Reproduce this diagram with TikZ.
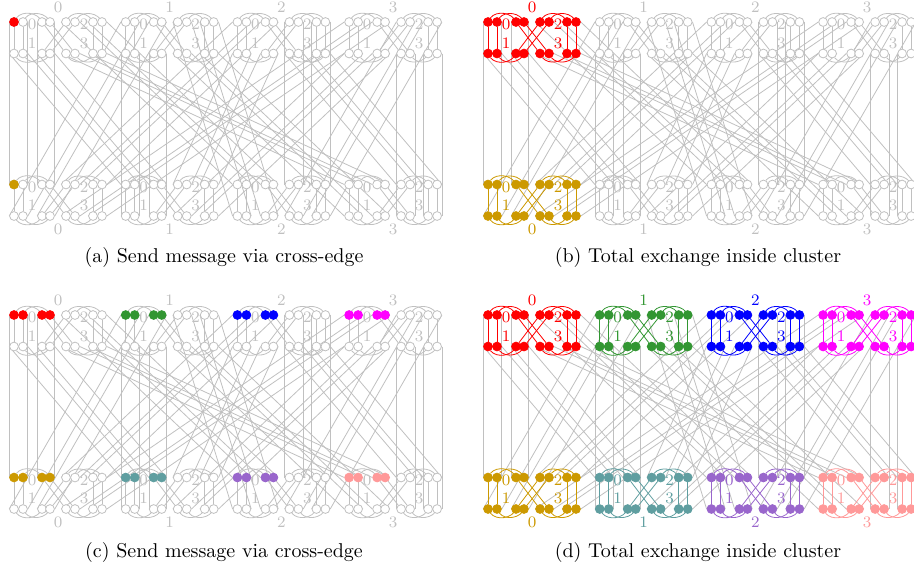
\documentclass[tikz,border=0pt]{standalone}
\usepackage{xcolor}
\usepackage{tikz}
\usetikzlibrary{positioning}

\definecolor{edgegray}{RGB}{192,192,192}
\definecolor{cgold}{RGB}{204,153,0}
\definecolor{cgreen}{RGB}{50,150,50}
\definecolor{cmagenta}{RGB}{255,0,255}
\definecolor{cteal}{RGB}{95,158,160}
\definecolor{cpurple}{RGB}{153,102,204}
\definecolor{cpink}{RGB}{255,153,153}

\pgfdeclarelayer{back}
\pgfdeclarelayer{mid}
\pgfsetlayers{back,mid,main}

\tikzset {
    gdot/.style = {
        circle,
        draw = edgegray,
        fill = white,
        line width = 0.4pt,
        inner sep = 0pt,
        minimum size = 4.4pt
    },
    cdot/.style = {
        circle,
        draw = #1,
        fill = #1,
        line width = 0.4pt,
        inner sep = 0pt,
        minimum size = 4.4pt
    },
    link/.style = {
        draw = #1,
        line width = 0.4pt
    },
    xedge/.style = {
        draw = edgegray,
        line width = 0.4pt
    },
    digit/.style = {
        text = #1,
        font = \footnotesize,
        inner sep = 0pt
    },
    caption/.style = {
        font = \normalsize,
        inner sep = 0pt
    },
    % one cluster: line colour, style of group 0, style of the rest,
    % label colour, y of the cluster number
    pics/cluster/.style n args = {5}{code = {
        \foreach \j/\x in {0/0,1/9,2/28,3/36}
            \node [#2] (-u\j) at (\x,0) {};
        \foreach \j/\x in {4/52,5/61,6/79,7/88}
            \node [#3] (-u\j) at (\x,0) {};
        \foreach \j/\x in {0/0,1/9,2/28,3/36,4/52,5/61,6/79,7/88}
            \node [#3] (-l\j) at (\x,31.5) {};

        \node [digit=#4] (-g0) at (18,2.5)  {0};
        \node [digit=#4] (-g1) at (18,21)   {1};
        \node [digit=#4] (-g2) at (70,2.5)  {2};
        \node [digit=#4] (-g3) at (70,21)   {3};
        \node [digit=#4] (-num) at (44,#5)  {\thecl};

        \begin{pgfonlayer}{mid}
            \foreach \s/\t in {0/1,2/3,4/5,6/7} {
                \path [link=#1] (-u\s) -- (-u\t);
                \path [link=#1] (-l\s) -- (-l\t);
            }
            \foreach \s/\t in {0/2,1/3,4/6,5/7} {
                \path [link=#1] (-u\s) to [bend left=60]  (-u\t);
                \path [link=#1] (-l\s) to [bend right=60] (-l\t);
            }
            \foreach \s in {0,1,6,7}
                \path [link=#1] (-u\s) -- (-l\s);
            \foreach \s/\t in {2/4,3/5} {
                \path [link=#1] (-u\s) -- (-l\t);
                \path [link=#1] (-l\s) -- (-u\t);
            }
        \end{pgfonlayer}
    }}
}

\begin{document}
\begin{tikzpicture}[x=0.5pt, y=-0.5pt]
    \useasboundingbox (0,0) rectangle (914,574);

    % (a) : all gray, one node on each side marked afterwards
    \foreach \c in {0,...,3} {
        \def\thecl{\c}
        \pic (a-t\c) at ({14+111.7*\c},22)    {cluster={edgegray}{gdot}{gdot}{edgegray}{-15}};
        \pic (a-b\c) at ({14+111.7*\c},184.5) {cluster={edgegray}{gdot}{gdot}{edgegray}{44.5}};
    }
    \node [cdot=red]   (a-src) at (a-t0-u0) {};
    \node [cdot=cgold] (a-dst) at (a-b0-u0) {};

    % (b) : cluster 0 on both sides
    \def\thecl{0}
    \pic (b-t0) at (488,22)    {cluster={red}{cdot=red}{cdot=red}{red}{-15}};
    \pic (b-b0) at (488,184.5) {cluster={cgold}{cdot=cgold}{cdot=cgold}{cgold}{44.5}};
    \foreach \c in {1,2,3} {
        \def\thecl{\c}
        \pic (b-t\c) at ({488+111.7*\c},22)    {cluster={edgegray}{gdot}{gdot}{edgegray}{-15}};
        \pic (b-b\c) at ({488+111.7*\c},184.5) {cluster={edgegray}{gdot}{gdot}{edgegray}{44.5}};
    }

    % (c) : group 0 of every cluster
    \foreach \c/\tc/\bc in {0/red/cgold,1/cgreen/cteal,2/blue/cpurple,3/cmagenta/cpink} {
        \def\thecl{\c}
        \pic (c-t\c) at ({14+111.7*\c},315)   {cluster={edgegray}{cdot=\tc}{gdot}{edgegray}{-15}};
        \pic (c-b\c) at ({14+111.7*\c},477.5) {cluster={edgegray}{cdot=\bc}{gdot}{edgegray}{44.5}};
    }

    % (d) : every cluster
    \foreach \c/\tc/\bc in {0/red/cgold,1/cgreen/cteal,2/blue/cpurple,3/cmagenta/cpink} {
        \def\thecl{\c}
        \pic (d-t\c) at ({488+111.7*\c},315)   {cluster={\tc}{cdot=\tc}{cdot=\tc}{\tc}{-15}};
        \pic (d-b\c) at ({488+111.7*\c},477.5) {cluster={\bc}{cdot=\bc}{cdot=\bc}{\bc}{44.5}};
    }

    % cross-edges: top (cluster c, group g, i) -- bottom (cluster g, group c, i)
    \begin{pgfonlayer}{back}
        \foreach \p in {a,b,c,d}
        \foreach \c in {0,...,3}
        \foreach \g in {0,...,3}
        \foreach \i in {0,...,3} {
            \ifodd\g\relax \def\rt{l}\else \def\rt{u}\fi
            \ifodd\c\relax \def\rb{l}\else \def\rb{u}\fi
            \ifodd\i\relax \def\an{east}\else \def\an{west}\fi
            \pgfmathtruncatemacro\jt{\i+4*(\g>1)}
            \pgfmathtruncatemacro\jb{\i+4*(\c>1)}
            \path [xedge] (\p-t\c-\rt\jt.\an) -- (\p-b\g-\rb\jb.\an);
        }
    \end{pgfonlayer}

    \node [caption] (cap-a) at (224,257) {(a) Send message via cross-edge};
    \node [caption] (cap-b) at (698,257) {(b) Total exchange inside cluster};
    \node [caption] (cap-c) at (224,552) {(c) Send message via cross-edge};
    \node [caption] (cap-d) at (698,552) {(d) Total exchange inside cluster};
\end{tikzpicture}
\end{document}
